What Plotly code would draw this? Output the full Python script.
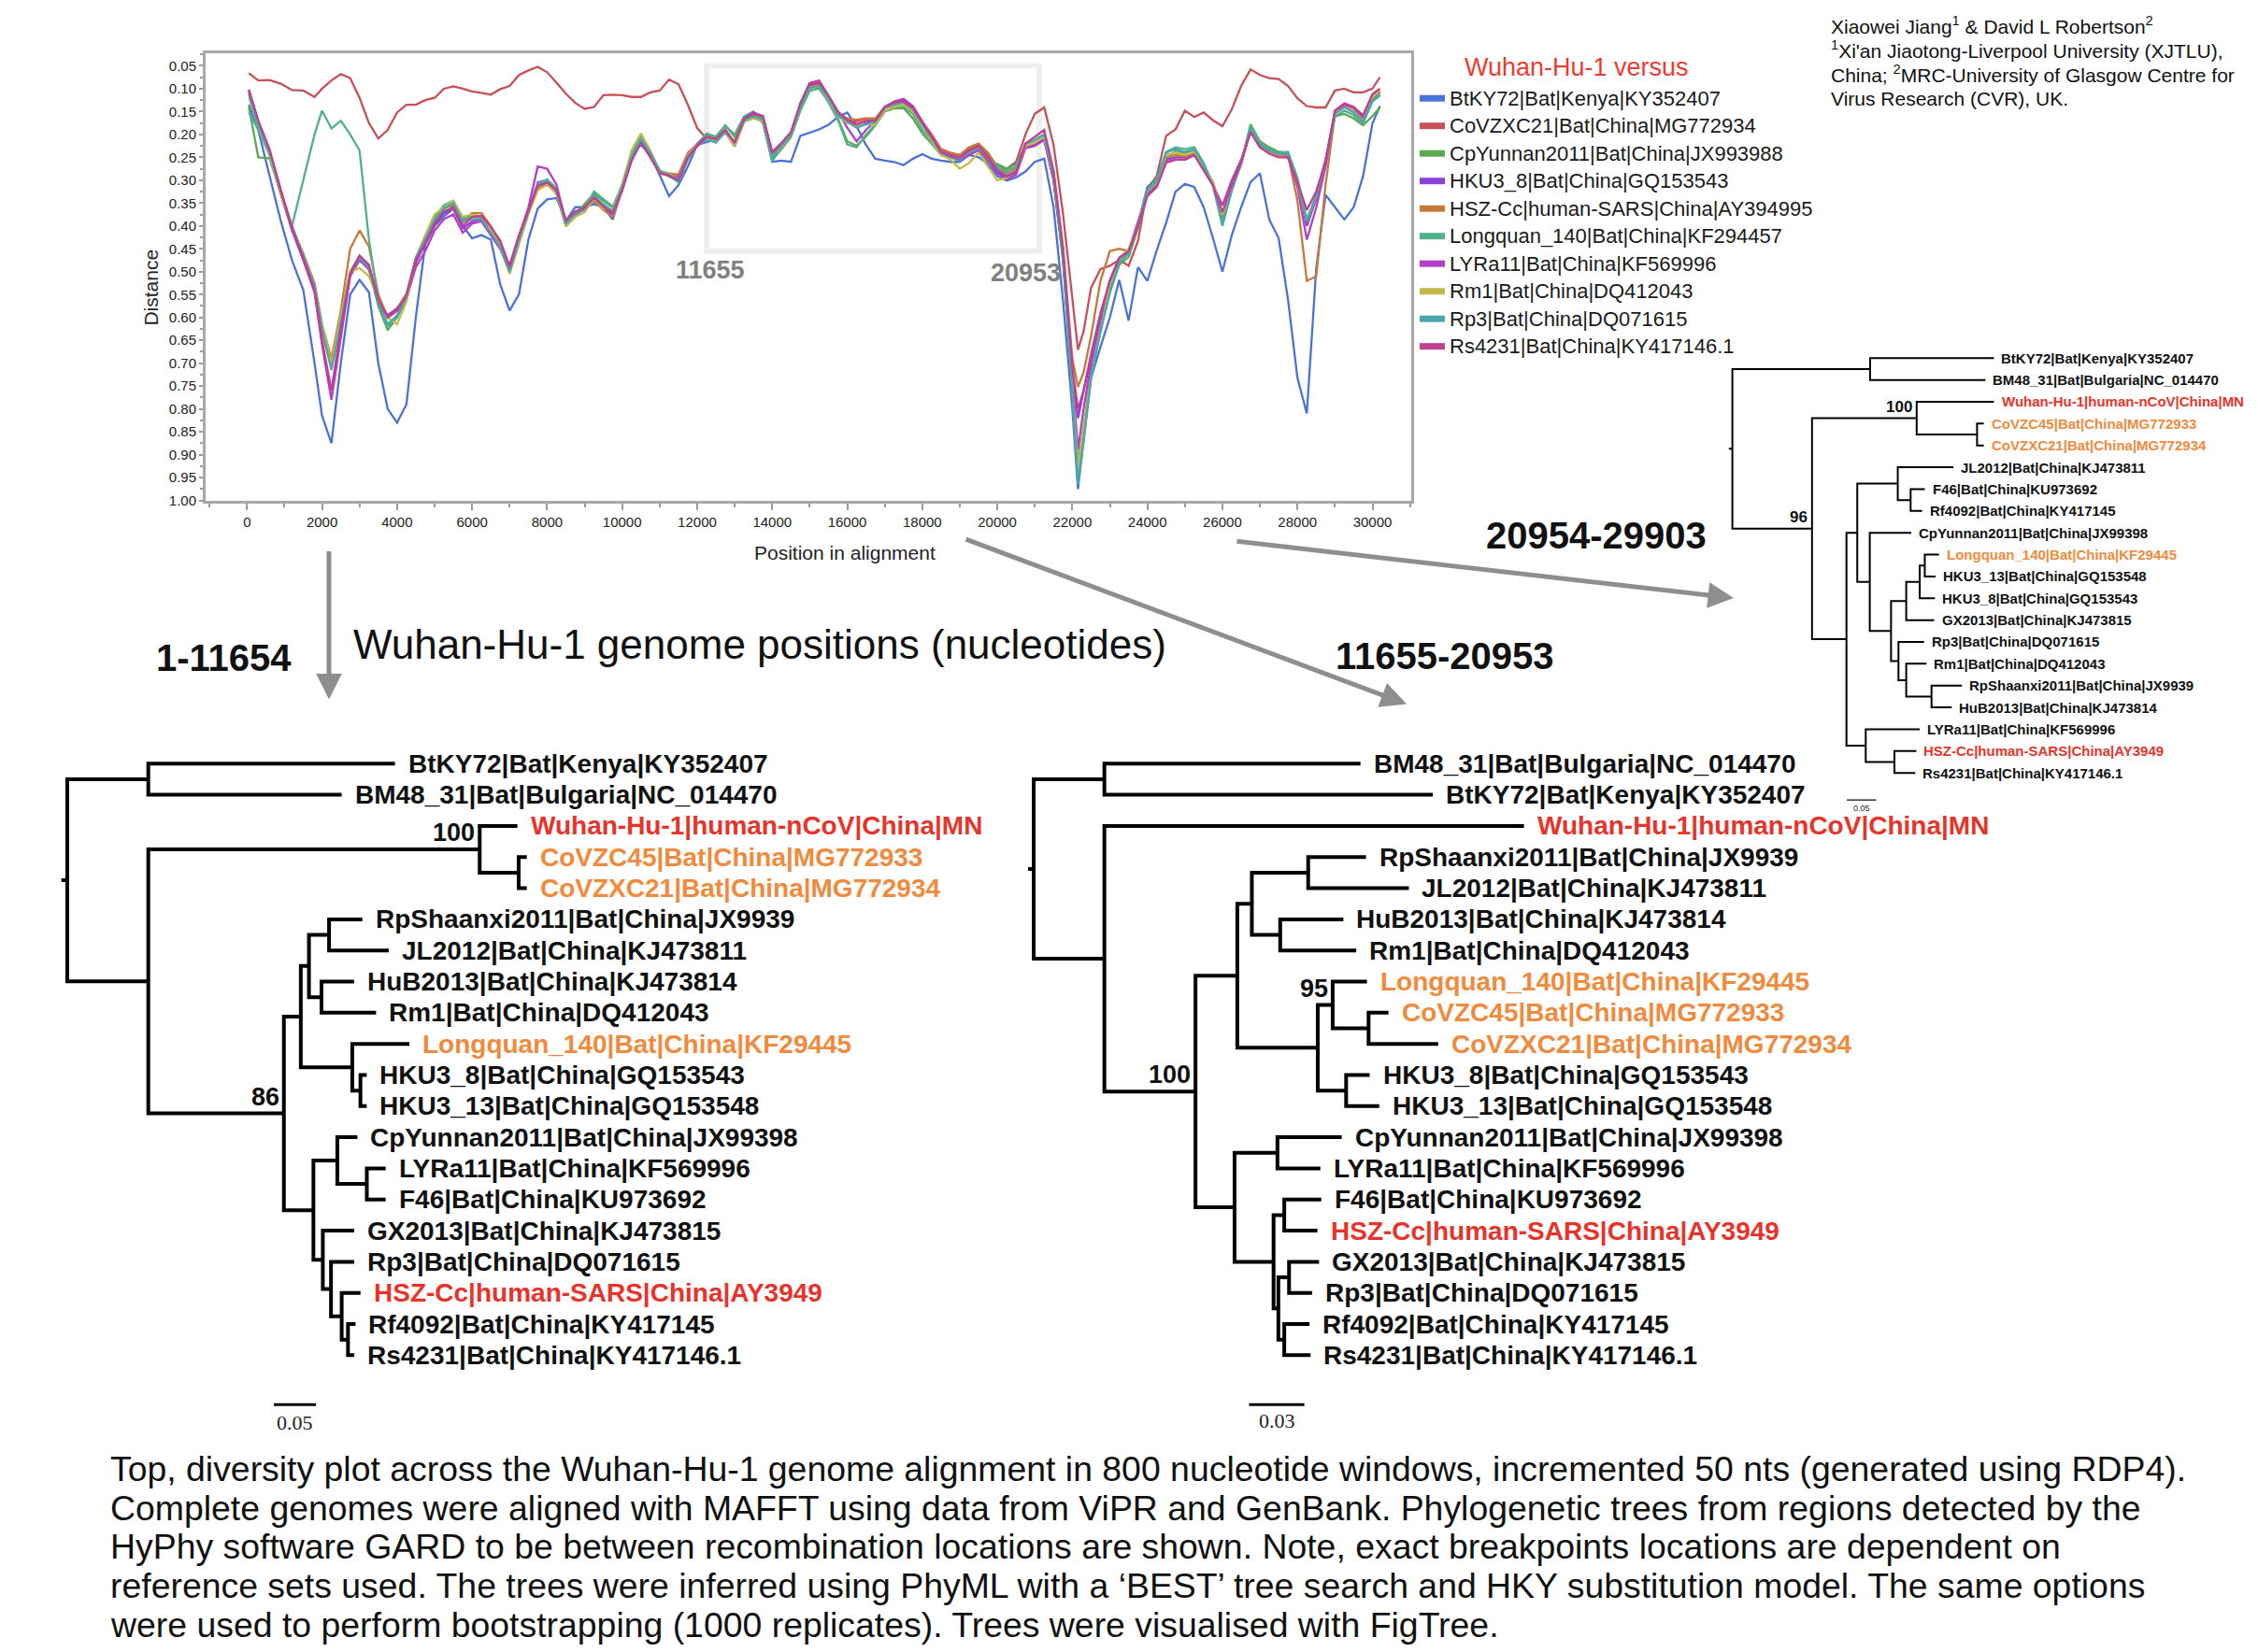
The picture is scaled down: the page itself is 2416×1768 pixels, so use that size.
import plotly.graph_objects as go

W, H = 2416, 1768

# ---------------- diversity plot data ----------------
POS = [50, 300, 600, 900, 1200, 1500, 1800,
       2000, 2250, 2500, 2750, 3000, 3250, 3500, 3750, 4000, 4250,
       4500, 4750, 5000, 5250, 5500, 5750, 6000, 6250, 6500, 6750,
       7000, 7250, 7500, 7750, 8000, 8250, 8500, 8750, 9000, 9250,
       9500, 9750, 10000, 10250, 10500, 10750, 11000, 11250, 11500, 11750,
       12000, 12250, 12500, 12750, 13000, 13250, 13500, 13750, 14000, 14250,
       14500, 14750, 15000, 15250, 15500, 15750, 16000, 16250, 16500, 16750,
       17000, 17250, 17500, 17750, 18000, 18250, 18500, 18750, 19000, 19250,
       19500, 19750, 20000, 20250, 20500, 20750, 21000, 21250, 21500, 21750,
       22000, 22150, 22300, 22500, 22750, 23000, 23250, 23500, 23750, 24000,
       24250, 24500, 24750, 25000, 25250, 25500, 25750, 26000, 26250, 26500,
       26750, 27000, 27250, 27500, 27750, 28000, 28250, 28500, 28750, 29000,
       29250, 29500, 29750, 30000, 30200]

BTKY72 = [0.135, 0.19, 0.29, 0.389, 0.475, 0.54, 0.70,
          0.815, 0.875, 0.70, 0.55, 0.518, 0.545, 0.70, 0.80, 0.83, 0.79,
          0.60, 0.44, 0.40, 0.379, 0.362, 0.40, 0.427, 0.42, 0.43, 0.528,
          0.585, 0.549, 0.43, 0.362, 0.342, 0.339, 0.389, 0.359, 0.359, 0.352,
          0.359, 0.386, 0.318, 0.243, 0.223, 0.243, 0.29, 0.335, 0.311, 0.27,
          0.223, 0.216, 0.21, 0.196, 0.226, 0.172, 0.162, 0.172, 0.26, 0.257,
          0.26, 0.203, 0.196, 0.189, 0.179, 0.162, 0.152, 0.182, 0.223, 0.253,
          0.257, 0.26, 0.267, 0.253, 0.243, 0.253, 0.257, 0.26, 0.26, 0.245,
          0.25, 0.264, 0.291, 0.301, 0.294, 0.281, 0.26, 0.253, 0.359, 0.562,
          0.80, 0.975, 0.868, 0.732, 0.664, 0.60, 0.518, 0.607, 0.49, 0.52,
          0.453, 0.393, 0.325, 0.308, 0.315, 0.359, 0.427, 0.50, 0.42, 0.359,
          0.304, 0.285, 0.386, 0.427, 0.562, 0.732, 0.81, 0.494, 0.332, 0.359,
          0.386, 0.359, 0.291, 0.176, 0.138]

COVZXC21 = [0.066, 0.082, 0.081, 0.089, 0.103, 0.104, 0.118,
            0.10, 0.082, 0.068, 0.077, 0.12, 0.175, 0.209, 0.19, 0.152, 0.135,
            0.135, 0.125, 0.12, 0.10, 0.095, 0.10, 0.106, 0.109, 0.113, 0.101,
            0.094, 0.07, 0.06, 0.052, 0.064, 0.087, 0.111, 0.131, 0.144, 0.14,
            0.114, 0.113, 0.114, 0.118, 0.118, 0.108, 0.104, 0.08, 0.09, 0.135,
            0.186, 0.209, 0.21, 0.195, 0.218, 0.17, 0.16, 0.168, 0.24, 0.22,
            0.197, 0.135, 0.092, 0.09, 0.12, 0.152, 0.168, 0.172, 0.165, 0.17,
            0.14, 0.132, 0.125, 0.14, 0.172, 0.20, 0.232, 0.24, 0.245, 0.232,
            0.225, 0.245, 0.27, 0.275, 0.26, 0.20, 0.155, 0.141, 0.223, 0.372,
            0.562, 0.671, 0.63, 0.535, 0.494, 0.487, 0.474, 0.487, 0.433, 0.318,
            0.291, 0.203, 0.189, 0.148, 0.162, 0.152, 0.169, 0.182, 0.145, 0.094,
            0.058, 0.07, 0.077, 0.079, 0.094, 0.121, 0.138, 0.141, 0.141, 0.104,
            0.10, 0.108, 0.108, 0.10, 0.075]

CPYUNNAN = [0.14, 0.25, 0.252, 0.33, 0.405, 0.47, 0.53,
            0.625, 0.70, 0.60, 0.50, 0.465, 0.495, 0.575, 0.628, 0.60, 0.56,
            0.478, 0.43, 0.385, 0.36, 0.352, 0.392, 0.375, 0.382, 0.41, 0.445,
            0.50, 0.43, 0.37, 0.312, 0.302, 0.33, 0.40, 0.375, 0.352, 0.33,
            0.345, 0.36, 0.31, 0.24, 0.205, 0.24, 0.278, 0.292, 0.30, 0.25,
            0.22, 0.20, 0.205, 0.18, 0.205, 0.162, 0.155, 0.175, 0.255, 0.232,
            0.205, 0.148, 0.103, 0.10, 0.128, 0.165, 0.215, 0.225, 0.205, 0.18,
            0.15, 0.143, 0.142, 0.165, 0.198, 0.22, 0.245, 0.248, 0.255, 0.24,
            0.235, 0.26, 0.265, 0.275, 0.265, 0.225, 0.218, 0.21, 0.30, 0.475,
            0.75, 0.92, 0.84, 0.72, 0.63, 0.545, 0.485, 0.468, 0.405, 0.325,
            0.31, 0.255, 0.235, 0.24, 0.233, 0.268, 0.305, 0.385, 0.32, 0.265,
            0.178, 0.215, 0.228, 0.238, 0.24, 0.31, 0.395, 0.34, 0.26, 0.16,
            0.155, 0.165, 0.18, 0.16, 0.141]

HKU3_8 = [0.105, 0.172, 0.235, 0.322, 0.402, 0.468, 0.535,
          0.63, 0.71, 0.61, 0.505, 0.472, 0.49, 0.565, 0.60, 0.585, 0.55,
          0.48, 0.44, 0.398, 0.372, 0.362, 0.405, 0.39, 0.385, 0.41, 0.435,
          0.49, 0.425, 0.37, 0.305, 0.30, 0.32, 0.39, 0.37, 0.365, 0.34,
          0.362, 0.375, 0.322, 0.252, 0.212, 0.245, 0.283, 0.29, 0.292, 0.245,
          0.225, 0.208, 0.215, 0.19, 0.222, 0.165, 0.155, 0.162, 0.24, 0.22,
          0.195, 0.135, 0.09, 0.085, 0.118, 0.152, 0.172, 0.185, 0.175, 0.172,
          0.142, 0.13, 0.125, 0.14, 0.175, 0.205, 0.24, 0.248, 0.255, 0.24,
          0.23, 0.255, 0.28, 0.295, 0.285, 0.228, 0.222, 0.21, 0.30, 0.47,
          0.72, 0.82, 0.76, 0.69, 0.605, 0.52, 0.47, 0.455, 0.395, 0.315,
          0.30, 0.255, 0.25, 0.25, 0.24, 0.275, 0.31, 0.38, 0.315, 0.26,
          0.19, 0.222, 0.24, 0.245, 0.245, 0.305, 0.40, 0.34, 0.26, 0.15,
          0.135, 0.142, 0.165, 0.12, 0.108]

HSZ_CC = [0.11, 0.178, 0.24, 0.33, 0.405, 0.46, 0.525,
          0.615, 0.69, 0.585, 0.45, 0.41, 0.445, 0.55, 0.60, 0.58, 0.548,
          0.47, 0.43, 0.39, 0.362, 0.355, 0.39, 0.372, 0.372, 0.40, 0.44,
          0.495, 0.425, 0.372, 0.318, 0.305, 0.325, 0.39, 0.37, 0.36, 0.345,
          0.365, 0.38, 0.322, 0.255, 0.215, 0.245, 0.28, 0.285, 0.288, 0.24,
          0.222, 0.205, 0.212, 0.192, 0.218, 0.17, 0.158, 0.165, 0.24, 0.222,
          0.198, 0.14, 0.098, 0.094, 0.12, 0.155, 0.165, 0.168, 0.165, 0.165,
          0.14, 0.135, 0.13, 0.145, 0.175, 0.20, 0.235, 0.242, 0.245, 0.228,
          0.22, 0.24, 0.27, 0.285, 0.275, 0.22, 0.212, 0.20, 0.285, 0.445,
          0.69, 0.752, 0.72, 0.64, 0.52, 0.455, 0.45, 0.455, 0.40, 0.325,
          0.30, 0.25, 0.245, 0.248, 0.24, 0.272, 0.305, 0.382, 0.32, 0.265,
          0.19, 0.222, 0.238, 0.245, 0.245, 0.345, 0.52, 0.51, 0.31, 0.155,
          0.14, 0.148, 0.165, 0.118, 0.105]

LONGQUAN = [0.152, 0.19, 0.245, 0.33, 0.40, 0.30, 0.20,
            0.148, 0.187, 0.17, 0.20, 0.235, 0.43, 0.565, 0.62, 0.60, 0.55,
            0.47, 0.425, 0.38, 0.355, 0.345, 0.385, 0.375, 0.385, 0.42, 0.45,
            0.50, 0.43, 0.365, 0.308, 0.298, 0.318, 0.40, 0.38, 0.36, 0.325,
            0.342, 0.358, 0.312, 0.245, 0.208, 0.238, 0.285, 0.29, 0.305, 0.255,
            0.225, 0.198, 0.205, 0.182, 0.20, 0.16, 0.15, 0.17, 0.258, 0.23,
            0.20, 0.145, 0.105, 0.098, 0.13, 0.168, 0.222, 0.228, 0.20, 0.178,
            0.148, 0.14, 0.138, 0.155, 0.19, 0.215, 0.245, 0.25, 0.258, 0.242,
            0.232, 0.255, 0.27, 0.28, 0.27, 0.225, 0.218, 0.205, 0.29, 0.465,
            0.76, 0.945, 0.86, 0.72, 0.625, 0.54, 0.478, 0.46, 0.395, 0.32,
            0.298, 0.238, 0.228, 0.232, 0.228, 0.262, 0.31, 0.395, 0.322, 0.262,
            0.182, 0.218, 0.232, 0.24, 0.238, 0.295, 0.385, 0.335, 0.255, 0.162,
            0.148, 0.158, 0.176, 0.128, 0.115]

LYRA11 = [0.104, 0.175, 0.238, 0.33, 0.41, 0.475, 0.545,
          0.66, 0.78, 0.64, 0.51, 0.475, 0.495, 0.565, 0.595, 0.58, 0.56,
          0.49, 0.455, 0.41, 0.385, 0.375, 0.415, 0.395, 0.39, 0.42, 0.45,
          0.485, 0.42, 0.36, 0.27, 0.275, 0.31, 0.39, 0.375, 0.36, 0.335,
          0.355, 0.37, 0.32, 0.255, 0.215, 0.245, 0.283, 0.29, 0.295, 0.245,
          0.222, 0.205, 0.212, 0.19, 0.22, 0.166, 0.152, 0.16, 0.245, 0.225,
          0.198, 0.132, 0.088, 0.082, 0.115, 0.15, 0.185, 0.215, 0.19, 0.17,
          0.14, 0.128, 0.122, 0.138, 0.172, 0.205, 0.24, 0.248, 0.255, 0.245,
          0.235, 0.255, 0.285, 0.298, 0.288, 0.23, 0.225, 0.212, 0.30, 0.465,
          0.73, 0.89, 0.80, 0.70, 0.60, 0.52, 0.47, 0.455, 0.39, 0.33,
          0.31, 0.26, 0.255, 0.255, 0.245, 0.275, 0.31, 0.355, 0.30, 0.255,
          0.192, 0.225, 0.24, 0.248, 0.25, 0.315, 0.43, 0.36, 0.27, 0.148,
          0.132, 0.14, 0.162, 0.115, 0.105]

RM1 = [0.118, 0.182, 0.245, 0.33, 0.40, 0.462, 0.53,
       0.615, 0.70, 0.595, 0.50, 0.492, 0.51, 0.56, 0.60, 0.615, 0.565,
       0.47, 0.42, 0.375, 0.36, 0.345, 0.38, 0.375, 0.38, 0.41, 0.445,
       0.505, 0.44, 0.375, 0.322, 0.31, 0.33, 0.40, 0.38, 0.37, 0.34,
       0.362, 0.365, 0.31, 0.235, 0.198, 0.235, 0.28, 0.285, 0.298, 0.245,
       0.224, 0.208, 0.215, 0.195, 0.225, 0.172, 0.165, 0.172, 0.248, 0.228,
       0.20, 0.14, 0.098, 0.095, 0.125, 0.16, 0.175, 0.18, 0.178, 0.178,
       0.148, 0.14, 0.135, 0.15, 0.18, 0.215, 0.245, 0.255, 0.275, 0.262,
       0.24, 0.27, 0.30, 0.295, 0.28, 0.225, 0.218, 0.205, 0.29, 0.455,
       0.74, 0.93, 0.84, 0.73, 0.63, 0.53, 0.47, 0.45, 0.40, 0.325,
       0.305, 0.245, 0.24, 0.245, 0.238, 0.272, 0.305, 0.375, 0.318, 0.262,
       0.192, 0.228, 0.24, 0.248, 0.25, 0.305, 0.39, 0.335, 0.255, 0.152,
       0.14, 0.15, 0.172, 0.118, 0.105]

RP3 = [0.112, 0.18, 0.24, 0.325, 0.40, 0.465, 0.53,
       0.625, 0.715, 0.61, 0.505, 0.47, 0.49, 0.57, 0.615, 0.595, 0.555,
       0.47, 0.43, 0.388, 0.362, 0.35, 0.39, 0.385, 0.385, 0.415, 0.445,
       0.50, 0.43, 0.37, 0.31, 0.302, 0.325, 0.395, 0.372, 0.362, 0.335,
       0.352, 0.368, 0.315, 0.248, 0.21, 0.24, 0.28, 0.288, 0.298, 0.248,
       0.226, 0.21, 0.218, 0.195, 0.215, 0.17, 0.16, 0.168, 0.25, 0.226,
       0.20, 0.14, 0.098, 0.094, 0.122, 0.158, 0.172, 0.185, 0.178, 0.172,
       0.142, 0.135, 0.13, 0.145, 0.178, 0.21, 0.24, 0.245, 0.252, 0.238,
       0.228, 0.252, 0.275, 0.29, 0.28, 0.22, 0.212, 0.20, 0.292, 0.47,
       0.76, 0.965, 0.87, 0.73, 0.63, 0.545, 0.48, 0.46, 0.395, 0.322,
       0.302, 0.24, 0.232, 0.238, 0.232, 0.268, 0.312, 0.40, 0.322, 0.262,
       0.185, 0.222, 0.235, 0.242, 0.242, 0.30, 0.39, 0.335, 0.256, 0.155,
       0.14, 0.152, 0.172, 0.125, 0.112]

RS4231 = [0.102, 0.17, 0.232, 0.322, 0.405, 0.47, 0.54,
          0.65, 0.76, 0.625, 0.505, 0.465, 0.485, 0.56, 0.60, 0.585, 0.552,
          0.475, 0.438, 0.395, 0.368, 0.36, 0.40, 0.38, 0.378, 0.402, 0.432,
          0.49, 0.42, 0.368, 0.312, 0.305, 0.322, 0.388, 0.368, 0.36, 0.338,
          0.358, 0.372, 0.322, 0.258, 0.218, 0.25, 0.285, 0.29, 0.30, 0.25,
          0.225, 0.205, 0.21, 0.19, 0.218, 0.165, 0.155, 0.16, 0.238, 0.218,
          0.195, 0.132, 0.088, 0.085, 0.115, 0.15, 0.168, 0.178, 0.17, 0.17,
          0.14, 0.13, 0.128, 0.142, 0.175, 0.205, 0.238, 0.245, 0.25, 0.235,
          0.225, 0.25, 0.278, 0.292, 0.282, 0.22, 0.205, 0.19, 0.28, 0.45,
          0.71, 0.80, 0.76, 0.68, 0.59, 0.52, 0.47, 0.455, 0.40, 0.335,
          0.315, 0.262, 0.255, 0.255, 0.245, 0.278, 0.312, 0.37, 0.31, 0.26,
          0.195, 0.228, 0.242, 0.25, 0.25, 0.305, 0.365, 0.325, 0.258, 0.148,
          0.135, 0.14, 0.158, 0.112, 0.10]

SERIES_NAMES = ["BtKY72|Bat|Kenya|KY352407", "CoVZXC21|Bat|China|MG772934",
                "CpYunnan2011|Bat|China|JX993988", "HKU3_8|Bat|China|GQ153543",
                "HSZ-Cc|human-SARS|China|AY394995", "Longquan_140|Bat|China|KF294457",
                "LYRa11|Bat|China|KF569996", "Rm1|Bat|China|DQ412043",
                "Rp3|Bat|China|DQ071615", "Rs4231|Bat|China|KY417146.1"]
SERIES_VALUES = [BTKY72, COVZXC21, CPYUNNAN, HKU3_8, HSZ_CC, LONGQUAN, LYRA11, RM1, RP3, RS4231]
SERIES_COLORS = ["#4a72d8", "#c8505a", "#5aa84f", "#8c3fd6", "#c47a3a",
                 "#52b08c", "#b43fc6", "#c4b94a", "#4aa8ad", "#c23f8f"]

BREAKPOINTS = [11655, 20953]
Y_TICKS = [0.05, 0.10, 0.15, 0.20, 0.25, 0.30, 0.35, 0.40, 0.45, 0.50,
           0.55, 0.60, 0.65, 0.70, 0.75, 0.80, 0.85, 0.90, 0.95, 1.00]
X_TICKS = [0, 2000, 4000, 6000, 8000, 10000, 12000, 14000, 16000, 18000,
           20000, 22000, 24000, 26000, 28000, 30000]

# ---------------- trees ----------------
TIP_LABELS = {
    "BtKY72": "BtKY72|Bat|Kenya|KY352407",
    "BM48": "BM48_31|Bat|Bulgaria|NC_014470",
    "Wuhan": "Wuhan-Hu-1|human-nCoV|China|MN",
    "CoVZC45": "CoVZC45|Bat|China|MG772933",
    "CoVZXC21": "CoVZXC21|Bat|China|MG772934",
    "RpShaanxi": "RpShaanxi2011|Bat|China|JX9939",
    "JL2012": "JL2012|Bat|China|KJ473811",
    "HuB": "HuB2013|Bat|China|KJ473814",
    "Rm1": "Rm1|Bat|China|DQ412043",
    "Longquan": "Longquan_140|Bat|China|KF29445",
    "HKU3_8": "HKU3_8|Bat|China|GQ153543",
    "HKU3_13": "HKU3_13|Bat|China|GQ153548",
    "CpYunnan": "CpYunnan2011|Bat|China|JX99398",
    "LYRa11": "LYRa11|Bat|China|KF569996",
    "F46": "F46|Bat|China|KU973692",
    "GX2013": "GX2013|Bat|China|KJ473815",
    "Rp3": "Rp3|Bat|China|DQ071615",
    "HSZ": "HSZ-Cc|human-SARS|China|AY3949",
    "Rf4092": "Rf4092|Bat|China|KY417145",
    "Rs4231": "Rs4231|Bat|China|KY417146.1",
}
RED_TIPS = ["Wuhan", "HSZ"]
ORANGE_TIPS = ["CoVZC45", "CoVZXC21", "Longquan"]

TREE1_NWK = ("((BtKY72:0.2933,BM48:0.2299):0.0963,((Wuhan:0.0448,(CoVZC45:0.0097,CoVZXC21:0.0097):0.0463)100:0.394,"
             "((((RpShaanxi:0.0396,JL2012:0.0709):0.0239,(HuB:0.0388,Rm1:0.0649):0.0149):0.0097,"
             "(Longquan:0.0679,(HKU3_8:0.0075,HKU3_13:0.0075):0.0097):0.0612):0.0201,"
             "((CpYunnan:0.0239,(LYRa11:0.0224,F46:0.0224):0.0351):0.0284,"
             "(GX2013:0.0373,(Rp3:0.0276,(HSZ:0.0224,(Rf4092:0.009,Rs4231:0.0075):0.0075):0.0127):0.0097):0.0112):0.0351)86:0.1612):0.0963);")
TREE2_NWK = ("((BM48:0.1391,BtKY72:0.1784):0.0384,(Wuhan:0.2279,((((RpShaanxi:0.0314,JL2012:0.0547):0.0306,"
             "(HuB:0.0343,Rm1:0.0413):0.0154):0.0079,((Longquan:0.0186,(CoVZC45:0.0108,CoVZXC21:0.0378):0.0195)95:0.0081,"
             "(HKU3_8:0.0128,HKU3_13:0.018):0.0154):0.0437):0.0227,((CpYunnan:0.0349,LYRa11:0.0233):0.0233,"
             "((F46:0.0201,HSZ:0.018):0.0058,((GX2013:0.0163,Rp3:0.0125):0.0058,(Rf4092:0.0137,Rs4231:0.0143):0.0032):0.0026):0.0212):0.0212)100:0.0495):0.0384);")
TREE3_NWK = ("((BtKY72:0.211,BM48:0.1967):0.2346,((Wuhan:0.1317,(CoVZC45:0.0115,CoVZXC21:0.0115):0.1029)100:0.1783,"
             "(((JL2012:0.0949,(F46:0.0242,Rf4092:0.0196):0.0219):0.069,(CpYunnan:0.0707,"
             "((((Longquan:0.0242,HKU3_13:0.0184):0.0086,HKU3_8:0.0259):0.023,GX2013:0.0477):0.0259,"
             "(Rp3:0.0437,(Rm1:0.0345,(RpShaanxi:0.0518,HuB:0.0345):0.0431):0.0132):0.0127):0.0362):0.0213):0.0184,"
             "(LYRa11:0.092,(HSZ:0.0374,Rs4231:0.0357):0.0489):0.0328):0.0587)96:0.1357);")

CAPTION = [
    "Top, diversity plot across the Wuhan-Hu-1 genome alignment in 800 nucleotide windows, incremented 50 nts (generated using RDP4).",
    "Complete genomes were aligned with MAFFT using data from ViPR and GenBank. Phylogenetic trees from regions detected by the",
    "HyPhy software GARD to be between recombination locations are shown. Note, exact breakpoints locations are dependent on",
    "reference sets used. The trees were inferred using PhyML with a \u2018BEST\u2019 tree search and HKY substitution model. The same options",
    "were used to perform bootstrapping (1000 replicates). Trees were visualised with FigTree.",
]
AUTHORS = [
    "Xiaowei Jiang<sup>1</sup> &amp; David L Robertson<sup>2</sup>",
    "<sup>1</sup>Xi'an Jiaotong-Liverpool University (XJTLU),",
    "China; <sup>2</sup>MRC-University of Glasgow Centre for",
    "Virus Research (CVR), UK.",
]

FONT = "Liberation Sans"


def px(x):
    return x / W


def py(y):
    return 1 - y / H


def paper_text(x, y, text, size, color="#111", xanchor="center", yanchor="middle", **kw):
    d = dict(x=px(x), y=py(y), xref="paper", yref="paper", text=text, showarrow=False,
             xanchor=xanchor, yanchor=yanchor, font=dict(family=FONT, size=size, color=color))
    d.update(kw)
    return d


def parse_newick(s):
    s = s.strip().rstrip(";")
    pos = 0

    def node():
        nonlocal pos
        n = {"children": [], "name": "", "len": 0.0}
        if s[pos] == "(":
            pos += 1
            while True:
                n["children"].append(node())
                if s[pos] == ",":
                    pos += 1
                    continue
                pos += 1  # ')'
                break
        st = pos
        while pos < len(s) and s[pos] not in ",():":
            pos += 1
        n["name"] = s[st:pos]
        if pos < len(s) and s[pos] == ":":
            pos += 1
            st = pos
            while pos < len(s) and s[pos] not in ",()":
                pos += 1
            n["len"] = float(s[st:pos])
        return n

    return node()


def layout_tree(root):
    leaves, internals = [], []
    cnt = [0]

    def rec(n, parent_x):
        n["x"] = parent_x + n["len"]
        if not n["children"]:
            n["y"] = cnt[0]
            cnt[0] += 1
            leaves.append(n)
        else:
            for c in n["children"]:
                rec(c, n["x"])
            n["y"] = (n["children"][0]["y"] + n["children"][-1]["y"]) / 2
            internals.append(n)

    root["len"] = 0.0
    rec(root, 0.0)
    return leaves, internals


def tree_paths(root, internals, stub):
    xs, ys = [], []
    for n in internals:
        c0, c1 = n["children"][0], n["children"][-1]
        xs += [c0["x"], n["x"], n["x"], c1["x"], None]
        ys += [c0["y"], c0["y"], c1["y"], c1["y"], None]
    xs += [-stub, 0, None]
    ys += [root["y"], root["y"], None]
    return xs, ys


fig = go.Figure()
annotations = []
shapes = []

# ---------------- diversity plot ----------------
for name, vals, col in zip(SERIES_NAMES, SERIES_VALUES, SERIES_COLORS):
    fig.add_trace(go.Scatter(x=POS, y=vals, mode="lines", name=name,
                             line=dict(color=col, width=2.3), showlegend=False,
                             xaxis="x", yaxis="y"))

X0, X1, Y0, Y1 = 220, 1510, 57, 538
x_per_px = 1 / 0.04014
xr = [(X0 - 264.3) * x_per_px, (X1 - 264.3) * x_per_px]

shapes.append(dict(type="rect", xref="x", yref="y", x0=12250, x1=21120, y0=0.05, y1=0.455,
                   line=dict(color="#efefef", width=6), layer="below"))
for bp, xx, yy in zip(BREAKPOINTS, [12350, 20765], [0.496, 0.502]):
    annotations.append(dict(x=xx, y=yy, xref="x", yref="y", text="<b>%d</b>" % bp,
                            xanchor="center", yanchor="middle",
                            showarrow=False, font=dict(family=FONT, size=27, color="#808080")))

annotations.append(paper_text(162, 309, "Distance", 21, "#222", textangle=-90))
annotations.append(paper_text(904, 594, "Position in alignment", 21, "#222"))

# legend (manual)
annotations.append(paper_text(1687, 72, "Wuhan-Hu-1 versus", 27, "#ee3b2f"))
for i, (name, col) in enumerate(zip(SERIES_NAMES, SERIES_COLORS)):
    yy = 105.7 + 29.63 * i
    shapes.append(dict(type="line", xref="paper", yref="paper", x0=px(1519), x1=px(1546),
                       y0=py(yy), y1=py(yy), line=dict(color=col, width=7)))
    annotations.append(paper_text(1549, yy, name, 22, "#1a1a1a", xanchor="left"))

# ---------------- trees ----------------
TREES = [
    dict(nwk=TREE1_NWK, ax="2", rootpx=72, ppu=900, y0=821, step=33.47, box=(55, 1100, 790, 1540),
         fs=28, bfs=27, lw=4, gap=12, stub=0.007, bar=(0.2456, 0.05, 20.59, 21.18, "0.05"), barfs=22,
         barfont="Liberation Serif", barlw=3),
    dict(nwk=TREE2_NWK, ax="3", rootpx=1106, ppu=1970, y0=821, step=33.47, box=(1095, 2000, 790, 1540),
         fs=28, bfs=27, lw=4, gap=12, stub=0.003, bar=(0.117, 0.03, 20.59, 21.12, "0.03"), barfs=22,
         barfont="Liberation Serif", barlw=3),
    dict(nwk=TREE3_NWK, ax="4", rootpx=1853.6, ppu=628, y0=385, step=23.47, box=(1845, 2416, 370, 880),
         fs=15, bfs=17, lw=2, gap=6, stub=0.006, bar=(0.195, 0.05, 20.24, 20.62, "0.05"), barfs=9,
         barfont=FONT, barlw=1.2),
]

layout_axes = {}
for t in TREES:
    root = parse_newick(t["nwk"])
    leaves, internals = layout_tree(root)
    xs, ys = tree_paths(root, internals, t["stub"])
    xa, ya = "x" + t["ax"], "y" + t["ax"]
    fig.add_trace(go.Scatter(x=xs, y=ys, mode="lines", line=dict(color="black", width=t["lw"]),
                             showlegend=False, hoverinfo="skip", xaxis=xa, yaxis=ya))
    bx0, bx1, by0, by1 = t["box"]
    layout_axes["xaxis" + t["ax"]] = dict(domain=[px(bx0), px(bx1)],
                                          range=[(bx0 - t["rootpx"]) / t["ppu"], (bx1 - t["rootpx"]) / t["ppu"]],
                                          visible=False, anchor=ya, fixedrange=True)
    layout_axes["yaxis" + t["ax"]] = dict(domain=[py(by1), py(by0)],
                                          range=[(by1 - t["y0"]) / t["step"], (by0 - t["y0"]) / t["step"]],
                                          visible=False, anchor=xa, fixedrange=True)
    for lf in leaves:
        key = lf["name"]
        col = "#e8332a" if key in RED_TIPS else ("#f08a3c" if key in ORANGE_TIPS else "#111111")
        annotations.append(dict(x=lf["x"], y=lf["y"], xref=xa, yref=ya, text="<b>%s</b>" % TIP_LABELS[key],
                                xanchor="left", yanchor="middle", xshift=t["gap"], showarrow=False,
                                font=dict(family=FONT, size=t["fs"], color=col)))
    for n in internals:
        if n["name"]:
            annotations.append(dict(x=n["x"], y=n["y"], xref=xa, yref=ya, text="<b>%s</b>" % n["name"],
                                    xanchor="right", yanchor="bottom", xshift=-3, yshift=1, showarrow=False,
                                    font=dict(family=FONT, size=t["bfs"], color="#111111")))
    bx, blen, byy, bly, btxt = t["bar"]
    fig.add_trace(go.Scatter(x=[bx, bx + blen], y=[byy, byy], mode="lines",
                             line=dict(color="black", width=t["barlw"]), showlegend=False,
                             hoverinfo="skip", xaxis=xa, yaxis=ya))
    annotations.append(dict(x=bx + blen / 2, y=bly, xref=xa, yref=ya, text=btxt, showarrow=False,
                            xanchor="center", yanchor="middle",
                            font=dict(family=t["barfont"], size=t["barfs"], color="#222")))

# ---------------- region labels & arrows ----------------
annotations.append(paper_text(240, 707, "<b>1-11654</b>", 40))
annotations.append(paper_text(1546, 705, "<b>11655-20953</b>", 40))
annotations.append(paper_text(1708, 576, "<b>20954-29903</b>", 40))
annotations.append(paper_text(376, 693, "Wuhan-Hu-1 genome positions (nucleotides)", 44, xanchor="left"))

ARROWS = [((352, 752), (352, 592)), ((1505, 757), (1032, 580)), ((1855, 643), (1322, 582))]
for (hx, hy), (tx, ty) in ARROWS:
    annotations.append(dict(x=px(hx), y=py(hy), xref="paper", yref="paper", text="", showarrow=True,
                            ax=tx - hx, ay=ty - hy, axref="pixel", ayref="pixel",
                            arrowcolor="#8e8e8e", arrowwidth=5, arrowhead=2, arrowsize=1.1, standoff=0))

# ---------------- caption & authors ----------------
for i, line in enumerate(CAPTION):
    annotations.append(paper_text(116, 1579 + 42 * i, line, 37.4, xanchor="left"))
for i, line in enumerate(AUTHORS):
    annotations.append(paper_text(1957, 27 + 26.2 * i, line, 21, xanchor="left"))

fig.update_layout(
    width=W, height=H, margin=dict(l=0, r=0, t=0, b=0),
    paper_bgcolor="white", plot_bgcolor="rgba(0,0,0,0)",
    showlegend=False,
    xaxis=dict(domain=[px(X0), px(X1)], range=xr, tickmode="array", tickvals=X_TICKS,
               ticktext=[str(v) for v in X_TICKS],
               ticks="outside", ticklen=7, tickwidth=2, tickcolor="#9a9a9a",
               minor=dict(tickmode="linear", tick0=-1000, dtick=2000, ticks="outside", ticklen=4,
                          tickwidth=2, tickcolor="#9a9a9a"),
               showline=True, linecolor="#a8a8a8", linewidth=3, mirror=True,
               showgrid=False, zeroline=False, tickfont=dict(family=FONT, size=15, color="#222"),
               anchor="y", fixedrange=True),
    yaxis=dict(domain=[py(Y1), py(Y0)], range=[1.0, 0.022], tickmode="array", tickvals=Y_TICKS,
               ticktext=["%.2f" % v for v in Y_TICKS],
               ticks="outside", ticklen=4, tickwidth=2, tickcolor="#9a9a9a",
               minor=dict(tickmode="linear", tick0=0.025, dtick=0.05, ticks="outside", ticklen=3,
                          tickwidth=2, tickcolor="#9a9a9a"),
               showline=True, linecolor="#a8a8a8", linewidth=3, mirror=True,
               showgrid=False, zeroline=False, tickfont=dict(family=FONT, size=15, color="#222"),
               anchor="x", fixedrange=True),
    annotations=annotations, shapes=shapes,
    **layout_axes,
)

fig.write_html("out.html", config={"displayModeBar": False},
               post_script="document.body.style.margin='0px';")
